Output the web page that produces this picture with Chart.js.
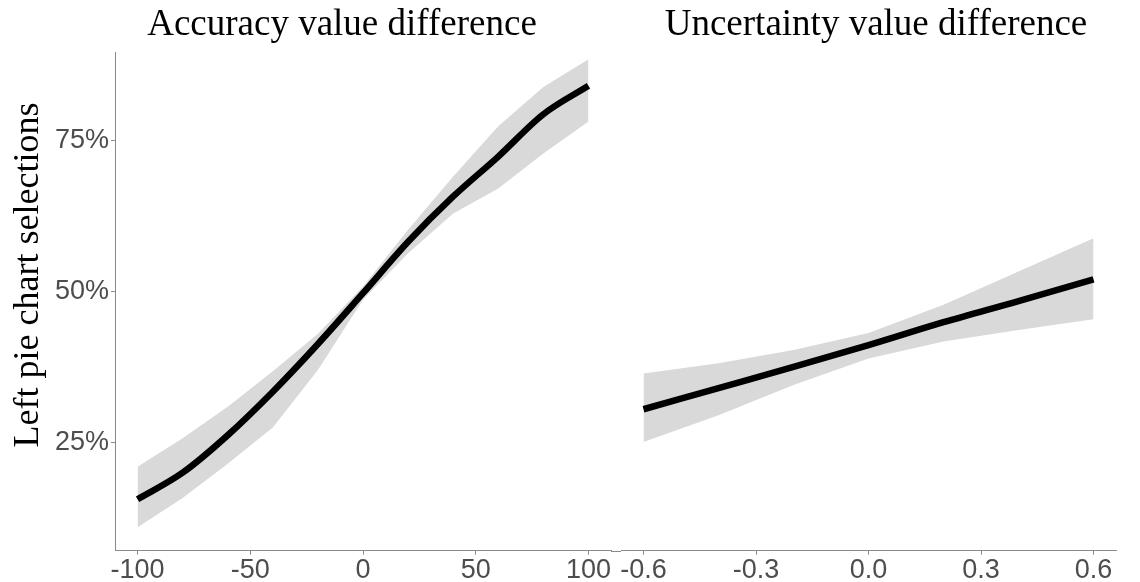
<!DOCTYPE html>
<html>
<head>
<meta charset="utf-8">
<script src="https://cdn.jsdelivr.net/npm/chart.js@4.4.1/dist/chart.umd.min.js"></script>
<style>
  html, body { margin: 0; padding: 0; background: #ffffff; }
  #wrap { position: relative; width: 1140px; height: 582px; overflow: hidden; }
  #wrap canvas { position: absolute; left: 0; top: 0; }
</style>
</head>
<body>
<div id="wrap">
  <canvas id="accChart" width="1140" height="582"></canvas>
  <canvas id="uncChart" width="1140" height="582"></canvas>
</div>
<script>
// Predicted share of left pie chart selections (%), with 95% confidence band
const accX    = [-100, -80, -60, -40, -20, 0, 20, 40, 60, 80, 100];
const accFit  = [15.6, 20.0, 26.2, 33.4, 41.3, 49.7, 58.2, 65.7, 72.3, 79.3, 84.0];
const accLow  = [11.0, 15.8, 21.5, 27.5, 37.0, 48.6, 56.3, 62.9, 67.0, 72.8, 78.1];
const accHigh = [21.0, 25.7, 30.9, 36.8, 43.0, 50.8, 60.2, 69.0, 77.3, 83.8, 88.4];

const uncX    = [-0.6, -0.4, -0.2, 0.0, 0.2, 0.4, 0.6];
const uncFit  = [30.5, 34.0, 37.5, 41.1, 44.9, 48.4, 52.0];
const uncLow  = [25.1, 29.5, 34.5, 38.9, 41.7, 43.6, 45.4];
const uncHigh = [36.4, 38.1, 40.3, 43.1, 47.8, 53.3, 58.8];

// Axis ticks
const yTicks    = [25, 50, 75];
const accXTicks = [-100, -50, 0, 50, 100];
const uncXTicks = [-0.6, -0.3, 0.0, 0.3, 0.6];

// Text
const accTitle = 'Accuracy value difference';
const uncTitle = 'Uncertainty value difference';
const yTitle   = 'Left pie chart selections';

// Shared look
const W = 1140, H = 582;
const AXIS_COLOR = '#8a8a8a';
const TICK_COLOR = '#4d4d4d';
const BAND_COLOR = '#d9d9d9';
const SANS  = "'Liberation Sans', Arial, sans-serif";
const SERIF = "'Liberation Serif', 'Times New Roman', serif";
const Y_MIN = 7.1, Y_MAX = 89.6;
const PANEL_TOP = 52, PANEL_BOTTOM = 550.7;
const LEFT_PANEL  = [115, 611];
const RIGHT_PANEL = [621, 1116];

const pts = (xs, ys) => xs.map((x, i) => ({ x: x, y: ys[i] }));

function datasets(xs, fit, low, high) {
  return [
    { data: pts(xs, fit),  borderColor: '#000000', borderWidth: 6.5, borderCapStyle: 'butt',
      borderJoinStyle: 'round', pointRadius: 0, fill: false, cubicInterpolationMode: 'monotone' },
    { data: pts(xs, high), borderWidth: 0, borderColor: 'rgba(0,0,0,0)', pointRadius: 0,
      backgroundColor: BAND_COLOR, fill: '+1', tension: 0 },
    { data: pts(xs, low),  borderWidth: 0, borderColor: 'rgba(0,0,0,0)', pointRadius: 0,
      fill: false, tension: 0 }
  ];
}

// Draws free-standing text (panel headings, y-axis title)
const textLabels = {
  id: 'textLabels',
  afterDraw(chart, args, opts) {
    const ctx = chart.ctx;
    (opts.items || []).forEach(t => {
      ctx.save();
      ctx.font = t.font;
      ctx.fillStyle = t.color || '#000000';
      ctx.textAlign = 'center';
      ctx.textBaseline = 'alphabetic';
      ctx.translate(t.x, t.y);
      if (t.rotate) ctx.rotate(t.rotate);
      ctx.fillText(t.text, 0, 0);
      ctx.restore();
    });
  }
};

// Joins the two bottom axis lines across the gap between panels
let accChart = null;
const axisBridge = {
  id: 'axisBridge',
  afterDraw(chart) {
    if (!accChart) return;
    const ctx = chart.ctx;
    const y = Math.round(chart.chartArea.bottom) + 0.5;
    ctx.save();
    ctx.strokeStyle = AXIS_COLOR;
    ctx.lineWidth = 1;
    ctx.beginPath();
    ctx.moveTo(accChart.chartArea.right, y);
    ctx.lineTo(chart.chartArea.left, y);
    ctx.stroke();
    ctx.restore();
  }
};

function xScale(ticks, fmt, min, max) {
  return {
    type: 'linear', min: min, max: max,
    afterBuildTicks: s => { s.ticks = ticks.map(v => ({ value: v })); },
    afterFit: s => { s.height = H - PANEL_BOTTOM; },
    ticks: { color: TICK_COLOR, font: { family: SANS, size: 27 }, padding: 0,
             maxRotation: 0, autoSkip: false, callback: fmt },
    grid: { display: true, drawOnChartArea: false, drawTicks: true, tickLength: 4,
            color: AXIS_COLOR, tickColor: AXIS_COLOR, lineWidth: 1 },
    border: { display: true, color: AXIS_COLOR, width: 1 }
  };
}

function yScale(show) {
  const s = {
    type: 'linear', min: Y_MIN, max: Y_MAX, display: show,
    afterBuildTicks: sc => { sc.ticks = yTicks.map(v => ({ value: v })); },
    ticks: { color: TICK_COLOR, font: { family: SANS, size: 27 }, padding: 2,
             autoSkip: false, callback: v => v + '%' },
    grid: { display: true, drawOnChartArea: false, drawTicks: true, tickLength: 4,
            color: AXIS_COLOR, tickColor: AXIS_COLOR, lineWidth: 1 },
    border: { display: true, color: AXIS_COLOR, width: 1 }
  };
  if (show) s.afterFit = sc => { sc.width = LEFT_PANEL[0]; };
  return s;
}

const common = {
  responsive: false,
  animation: false,
  devicePixelRatio: 1,
  plugins: { legend: { display: false }, tooltip: { enabled: false } }
};

accChart = new Chart(document.getElementById('accChart'), {
  type: 'line',
  data: { datasets: datasets(accX, accFit, accLow, accHigh) },
  plugins: [textLabels],
  options: Object.assign({}, common, {
    layout: { padding: { top: PANEL_TOP, left: 0, right: W - LEFT_PANEL[1], bottom: 0 } },
    scales: {
      x: xScale(accXTicks, v => String(v), -110, 110),
      y: yScale(true)
    },
    plugins: Object.assign({}, common.plugins, {
      textLabels: { items: [
        { text: accTitle, x: 342, y: 35, font: '37px ' + SERIF },
        { text: yTitle, x: 38, y: 275, rotate: -Math.PI / 2, font: '36px ' + SERIF }
      ] }
    })
  })
});

new Chart(document.getElementById('uncChart'), {
  type: 'line',
  data: { datasets: datasets(uncX, uncFit, uncLow, uncHigh) },
  plugins: [textLabels, axisBridge],
  options: Object.assign({}, common, {
    layout: { padding: { top: PANEL_TOP, left: RIGHT_PANEL[0], right: W - RIGHT_PANEL[1], bottom: 0 } },
    scales: {
      x: xScale(uncXTicks, v => v.toFixed(1), -0.66, 0.66),
      y: yScale(false)
    },
    plugins: Object.assign({}, common.plugins, {
      textLabels: { items: [
        { text: uncTitle, x: 876, y: 35, font: '37px ' + SERIF }
      ] }
    })
  })
});
</script>
</body>
</html>
